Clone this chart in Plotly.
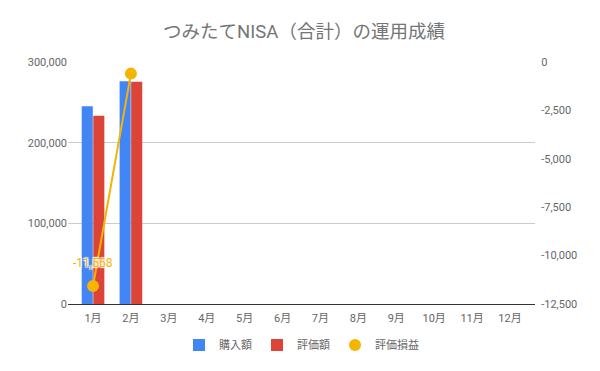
import plotly.graph_objects as go

months = ["1月", "2月", "3月", "4月", "5月", "6月", "7月", "8月", "9月", "10月", "11月", "12月"]
purchase = [245000, 276000, None, None, None, None, None, None, None, None, None, None]
valuation = [233432, 275400, None, None, None, None, None, None, None, None, None, None]
profit = [-11568, -600, None, None, None, None, None, None, None, None, None, None]
labeled_month = 0  # only the first point carries a data label

left_ticks = [0, 100000, 200000, 300000]
right_ticks = [0, -2500, -5000, -7500, -10000, -12500]
right_tick_text = [f"{v:,}" for v in right_ticks]

FONT = "Roboto, 'Noto Sans CJK JP', sans-serif"
TICK = "#666666"
YELLOW = "#F4B400"

fig = go.Figure()
fig.add_trace(go.Bar(x=months, y=purchase, name="購入額", marker_color="#4285F4",
                     marker_line_width=0))
fig.add_trace(go.Bar(x=months, y=valuation, name="評価額", marker_color="#DB4437",
                     marker_line_width=0))
fig.add_trace(go.Scatter(x=months, y=profit, name="評価損益", yaxis="y2",
                         mode="lines+markers", showlegend=False,
                         line=dict(color=YELLOW, width=2),
                         marker=dict(color=YELLOW, size=12)))
# legend-only entry: circle symbol for the line series
fig.add_trace(go.Scatter(x=[None], y=[None], name="評価損益", yaxis="y2",
                         mode="markers", marker=dict(color=YELLOW, size=12)))

fig.add_annotation(x=months[labeled_month], y=profit[labeled_month], xref="x", yref="y2",
                   text=f"{profit[labeled_month]:,}", showarrow=False, yshift=23,
                   font=dict(color=YELLOW, size=12, family=FONT,
                             shadow="1px 1px 1px white, -1px -1px 1px white, 1px -1px 1px white, -1px 1px 1px white"))

fig.update_layout(
    width=592, height=363,
    margin=dict(l=60, r=65, t=54, b=67, autoexpand=False),
    paper_bgcolor="white", plot_bgcolor="white",
    font=dict(family=FONT, color=TICK, size=11),
    title=dict(text="つみたてNISA（合計）の運用成績", x=0.5, xanchor="center",
               y=0.934, yanchor="middle", automargin=False,
               font=dict(size=18.5, color="#757575", family=FONT)),
    barmode="group", bargap=0.39, bargroupgap=0.04,
    showlegend=True,
    legend=dict(orientation="h", x=0.5, xanchor="center", y=-0.169, yanchor="middle",
                font=dict(size=11, color=TICK), itemwidth=30,
                traceorder="normal"),
    xaxis=dict(showgrid=False, showline=True, linecolor="#333333", linewidth=1,
               tickfont=dict(size=11, color=TICK), ticks="outside", ticklen=4,
               tickcolor="rgba(0,0,0,0)", automargin=False,
               range=[-0.66, 11.66]),
    yaxis=dict(range=[0, 300000], tickvals=left_ticks, tickformat=",",
               showgrid=True, gridcolor="#CCCCCC", gridwidth=1,
               zeroline=True, zerolinecolor="#333333", zerolinewidth=1,
               automargin=False, ticks="",
               tickfont=dict(size=11, color=TICK)),
    yaxis2=dict(range=[-12500, 0], tickvals=right_ticks, ticktext=right_tick_text,
                overlaying="y", side="right", showgrid=False, zeroline=False,
                automargin=False, ticks="outside", ticklen=3,
                tickcolor="rgba(0,0,0,0)",
                tickfont=dict(size=11, color=TICK)),
)

fig.write_html("out.html")
